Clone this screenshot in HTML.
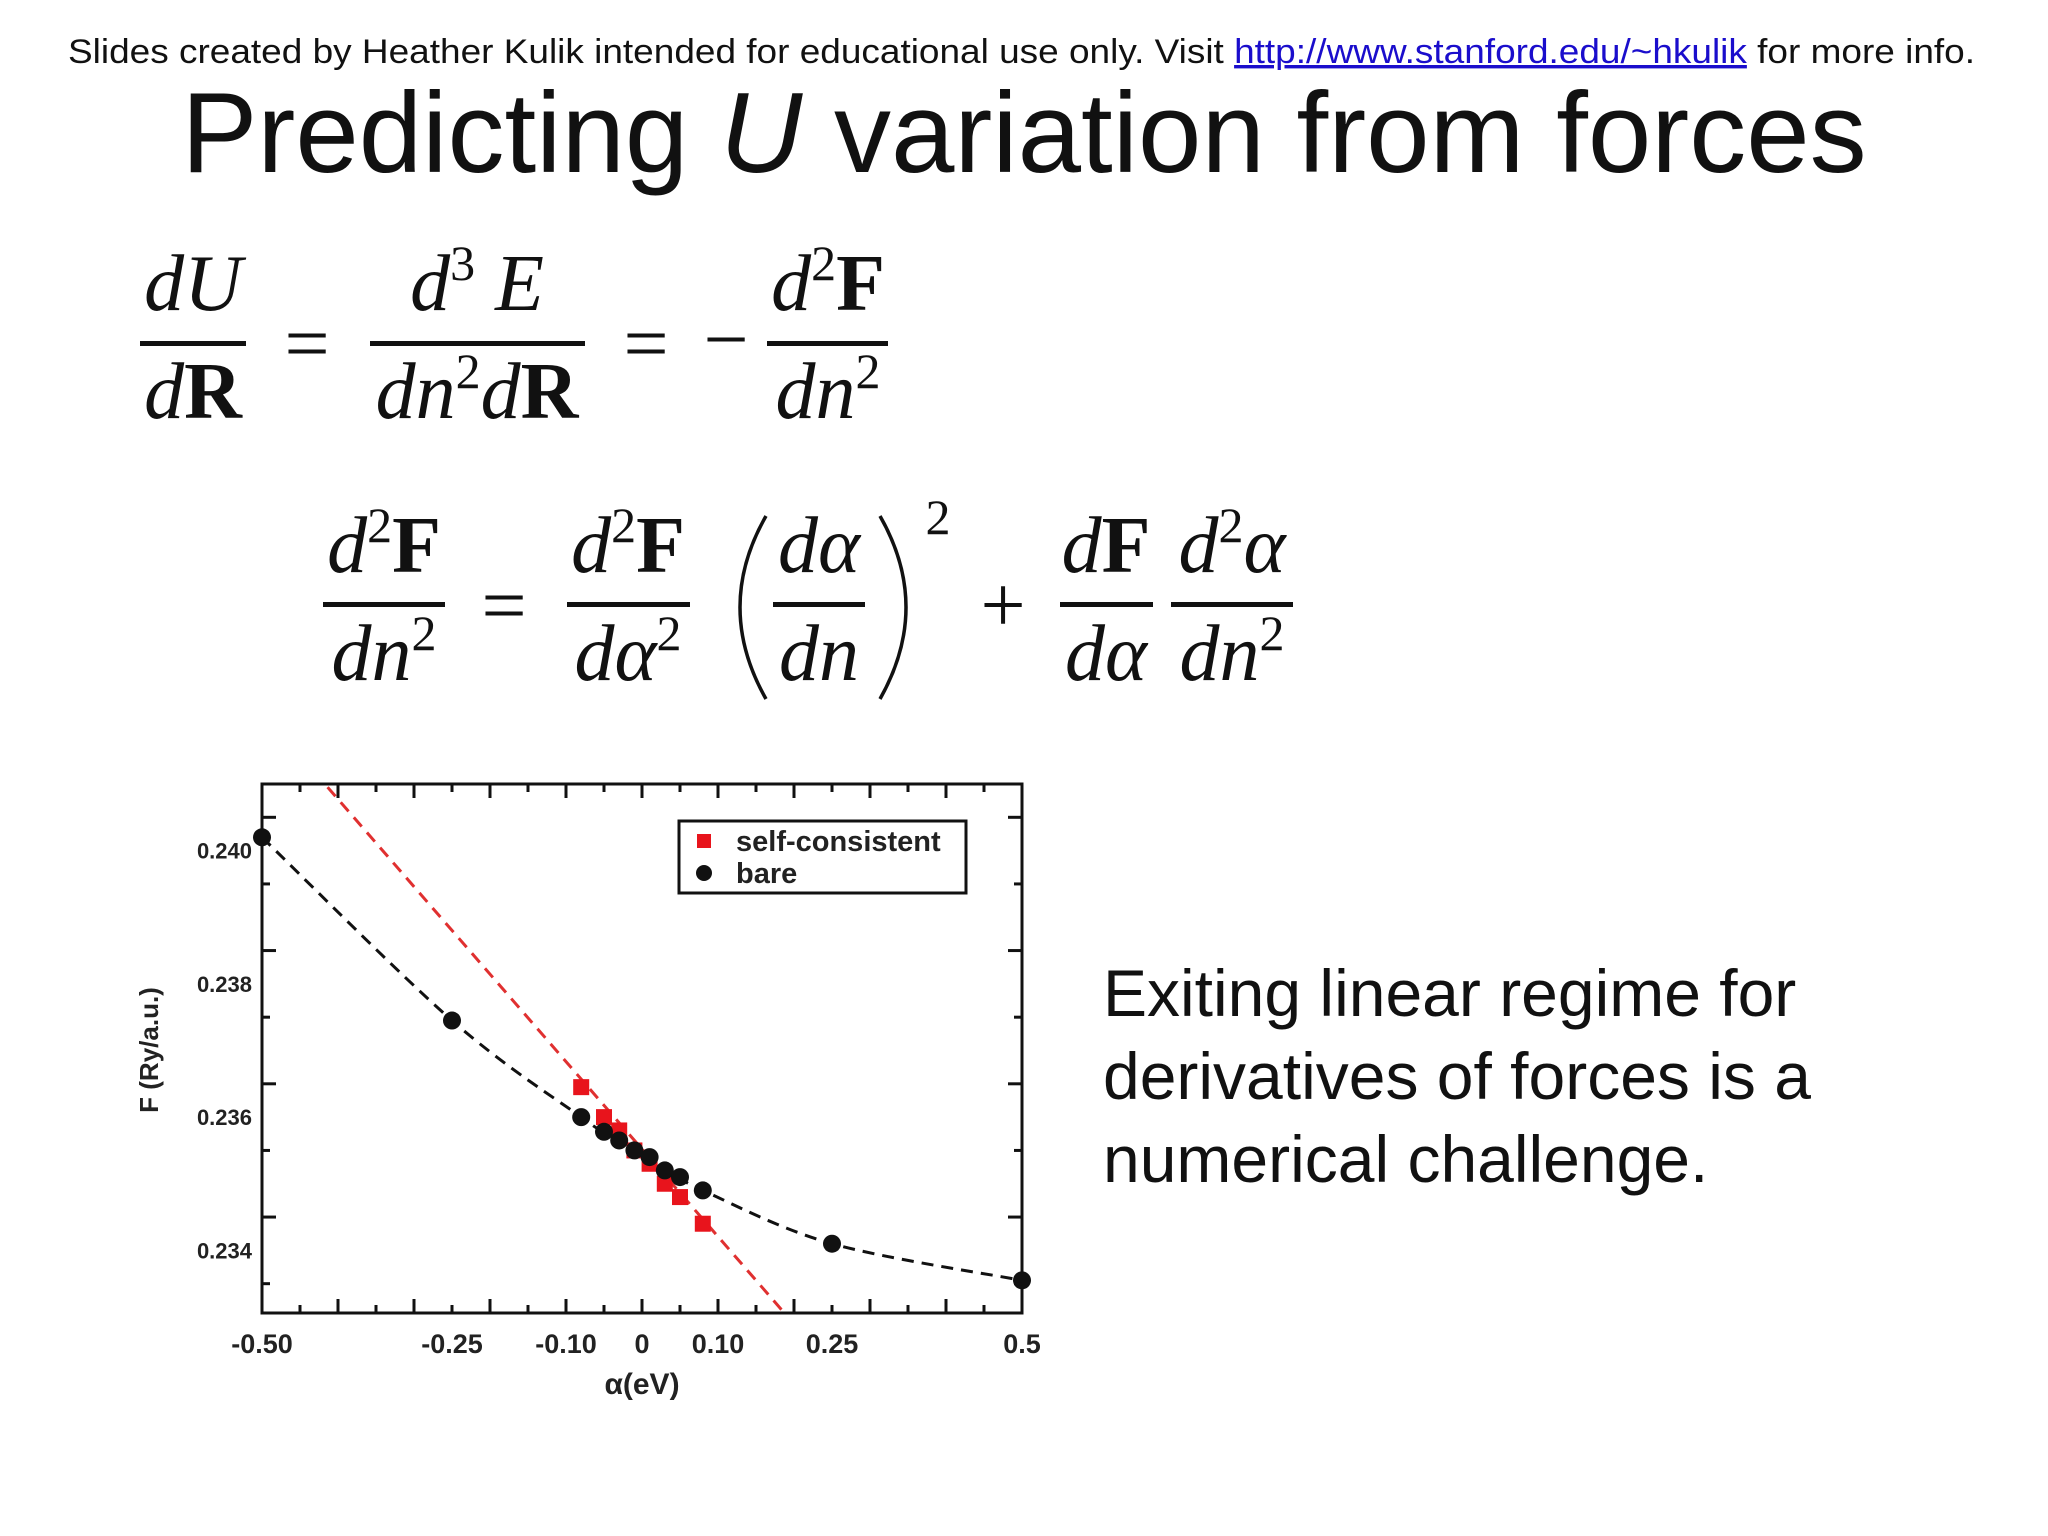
<!DOCTYPE html>
<html><head><meta charset="utf-8">
<style>
html,body{margin:0;padding:0;background:#fff;}
svg{display:block;}
.eq{font-family:"Liberation Serif",serif;font-style:italic;font-size:80px;fill:#111;}
.b{font-weight:bold;font-style:normal;}
.sup{font-size:50px;font-style:normal;}
.tk{font-family:"Liberation Sans",sans-serif;font-weight:bold;fill:#222;}
</style></head>
<body>
<svg id="page" width="2048" height="1536" viewBox="0 0 2048 1536" xmlns="http://www.w3.org/2000/svg">
<text x="68" y="63" textLength="1907" lengthAdjust="spacingAndGlyphs" font-family="Liberation Sans, sans-serif" font-size="34" fill="#111">Slides created by Heather Kulik intended for educational use only. Visit <tspan fill="#1a0dcc" text-decoration="underline">http://www.stanford.edu/~hkulik</tspan> for more info.</text>
<text x="1024" y="172" text-anchor="middle" font-family="Liberation Sans, sans-serif" font-size="114" fill="#111">Predicting <tspan font-style="italic">U</tspan> variation from forces</text>

<g class="eq">
<text x="193" y="310" text-anchor="middle">dU</text><rect x="140" y="341" width="106" height="5" fill="#111"/><text x="193" y="418" text-anchor="middle">d<tspan class="b">R</tspan></text>
<text x="307" y="370" text-anchor="middle" font-style="normal">=</text>
<text x="477" y="310" text-anchor="middle">d<tspan class="sup" dy="-30">3</tspan><tspan dy="30"> E</tspan></text><rect x="370" y="341" width="215" height="5" fill="#111"/><text x="477" y="418" text-anchor="middle">dn<tspan class="sup" dy="-30">2</tspan><tspan dy="30">d</tspan><tspan class="b">R</tspan></text>
<text x="646" y="370" text-anchor="middle" font-style="normal">=</text>
<text x="726" y="366" text-anchor="middle" font-style="normal">−</text>
<text x="828" y="310" text-anchor="middle">d<tspan class="sup" dy="-30">2</tspan><tspan class="b" dy="30">F</tspan></text><rect x="767" y="341" width="121" height="5" fill="#111"/><text x="828" y="418" text-anchor="middle">dn<tspan class="sup" dy="-30">2</tspan></text>
</g>

<g class="eq">
<text x="384" y="572" text-anchor="middle">d<tspan class="sup" dy="-30">2</tspan><tspan class="b" dy="30">F</tspan></text><rect x="323" y="602" width="122" height="5" fill="#111"/><text x="384" y="680" text-anchor="middle">dn<tspan class="sup" dy="-30">2</tspan></text>
<text x="504" y="632" text-anchor="middle" font-style="normal">=</text>
<text x="628" y="572" text-anchor="middle">d<tspan class="sup" dy="-30">2</tspan><tspan class="b" dy="30">F</tspan></text><rect x="567" y="602" width="123" height="5" fill="#111"/><text x="628" y="680" text-anchor="middle">dα<tspan class="sup" dy="-30">2</tspan></text>
<path d="M766,516 Q714,607 766,699" fill="none" stroke="#111" stroke-width="3.5"/>
<text x="819" y="572" text-anchor="middle">dα</text><rect x="773" y="602" width="92" height="5" fill="#111"/><text x="819" y="680" text-anchor="middle">dn</text>
<path d="M880,516 Q932,607 880,699" fill="none" stroke="#111" stroke-width="3.5"/>
<text x="938" y="534" class="sup" text-anchor="middle">2</text>
<text x="1003" y="632" text-anchor="middle" font-style="normal">+</text>
<text x="1106" y="572" text-anchor="middle">d<tspan class="b">F</tspan></text><rect x="1060" y="602" width="93" height="5" fill="#111"/><text x="1106" y="680" text-anchor="middle">dα</text>
<text x="1232" y="572" text-anchor="middle">d<tspan class="sup" dy="-30">2</tspan><tspan dy="30">α</tspan></text><rect x="1171" y="602" width="122" height="5" fill="#111"/><text x="1232" y="680" text-anchor="middle">dn<tspan class="sup" dy="-30">2</tspan></text>
</g>

<g font-family="Liberation Sans, sans-serif" font-size="66" fill="#111">
<text x="1103" y="1016">Exiting linear regime for</text>
<text x="1103" y="1099">derivatives of forces is a</text>
<text x="1103" y="1182">numerical challenge.</text>
</g>

<g id="chart"></g>
</svg>
<script>
const xTickVals = [-0.5, -0.25, -0.1, 0, 0.1, 0.25, 0.5];
const xTickLabels = ["-0.50", "-0.25", "-0.10", "0", "0.10", "0.25", "0.5"];
const yTickVals = [0.234, 0.236, 0.238, 0.240];
const yTickLabels = ["0.234", "0.236", "0.238", "0.240"];
const bareX = [-0.5, -0.25, -0.08, -0.05, -0.03, -0.01, 0.01, 0.03, 0.05, 0.08, 0.25, 0.5];
const bareY = [0.2402, 0.23745, 0.2360, 0.23578, 0.23565, 0.2355, 0.2354, 0.2352, 0.2351, 0.2349, 0.2341, 0.23355];
const scX = [-0.08, -0.05, -0.03, -0.01, 0.01, 0.03, 0.05, 0.08];
const scY = [0.23645, 0.2360, 0.2358, 0.2355, 0.2353, 0.2350, 0.2348, 0.2344];
const scFitIntercept = [0.23552];
const scFitSlope = [-0.01313];

const NS = "http://www.w3.org/2000/svg";
const L = 262, R = 1022, T = 784, B = 1313;
const xMin = -0.5, xMax = 0.5, yMin = 0.23306, yMax = 0.241;
const sx = v => L + (v - xMin) / (xMax - xMin) * (R - L);
const sy = v => B - (v - yMin) / (yMax - yMin) * (B - T);
const g = document.getElementById('chart');
function mk(tag, attrs, parent) {
  const e = document.createElementNS(NS, tag);
  for (const k in attrs) e.setAttribute(k, attrs[k]);
  (parent || g).appendChild(e);
  return e;
}
const clip = mk('clipPath', {id: 'pc'});
mk('rect', {x: L, y: T, width: R - L, height: B - T}, clip);

const fx1 = xMin, fx2 = xMax;
const redLine = mk('line', {x1: sx(fx1), y1: sy(scFitIntercept[0] + scFitSlope[0] * fx1), x2: sx(fx2), y2: sy(scFitIntercept[0] + scFitSlope[0] * fx2), stroke: '#e03030', 'stroke-width': 3, 'stroke-dasharray': '12 8', 'clip-path': 'url(#pc)'});



let pts = bareX.map((x, i) => [sx(x), sy(bareY[i])]);
let d = 'M' + pts[0][0] + ',' + pts[0][1];
for (let i = 0; i < pts.length - 1; i++) {
  const p0 = pts[Math.max(i - 1, 0)], p1 = pts[i], p2 = pts[i + 1], p3 = pts[Math.min(i + 2, pts.length - 1)];
  const c1 = [p1[0] + (p2[0] - p0[0]) / 6, p1[1] + (p2[1] - p0[1]) / 6];
  const c2 = [p2[0] - (p3[0] - p1[0]) / 6, p2[1] - (p3[1] - p1[1]) / 6];
  d += ' C' + c1 + ' ' + c2 + ' ' + p2;
}
const curve = mk('path', {d: d, fill: 'none', stroke: '#111', 'stroke-width': 3, 'stroke-dasharray': '12 8'});



scX.forEach((x, i) => {
  const r = mk('rect', {x: sx(x) - 8, y: sy(scY[i]) - 8, width: 16, height: 16, fill: '#e8141c'});
  
  
});
bareX.forEach((x, i) => {
  const c = mk('circle', {cx: sx(x), cy: sy(bareY[i]), r: 9, fill: '#111'});
  
  
});

const frame = mk('rect', {x: L, y: T, width: R - L, height: B - T, fill: 'none', stroke: '#111', 'stroke-width': 3});



for (let k = -10; k <= 10; k++) {
  const v = k * 0.05, X = sx(v);
  const major = Math.abs(k % 2) === 0;
  const len = major ? 14 : 8;
  mk('line', {x1: X, y1: B, x2: X, y2: B - len, stroke: '#111', 'stroke-width': 3});
  mk('line', {x1: X, y1: T, x2: X, y2: T + len, stroke: '#111', 'stroke-width': 3});
}
for (let k = 0; k <= 7; k++) {
  const v = 0.2335 + k * 0.001; const Y = sy(v);
  const len = (k % 2 === 1) ? 14 : 8;
  mk('line', {x1: L, y1: Y, x2: L + len, y2: Y, stroke: '#111', 'stroke-width': 3});
  mk('line', {x1: R, y1: Y, x2: R - len, y2: Y, stroke: '#111', 'stroke-width': 3});
}
xTickVals.forEach((v, i) => {
  const t = mk('text', {x: sx(v), y: B + 40, 'text-anchor': 'middle', 'font-size': 27, class: 'tk'});
  t.textContent = xTickLabels[i];
  
  
});
yTickVals.forEach((v, i) => {
  const t = mk('text', {x: L - 10, y: sy(v) + 8, 'text-anchor': 'end', 'font-size': 22, class: 'tk'});
  t.textContent = yTickLabels[i];
  
  
});
const xt = mk('text', {x: 642, y: 1394, 'text-anchor': 'middle', 'font-size': 30, class: 'tk', 'font-weight': 'normal'});
xt.textContent = 'α(eV)';


const yt = mk('text', {x: 0, y: 0, 'text-anchor': 'middle', 'font-size': 26, class: 'tk', transform: 'translate(158,1050) rotate(-90)'});
yt.textContent = 'F (Ry/a.u.)';



const lg = mk('g', {});


mk('rect', {x: 679, y: 821, width: 287, height: 72, fill: '#fff', stroke: '#111', 'stroke-width': 3}, lg);
mk('rect', {x: 697, y: 834, width: 14, height: 14, fill: '#e8141c'}, lg);
mk('circle', {cx: 704, cy: 873, r: 8, fill: '#111'}, lg);
const l1 = mk('text', {x: 736, y: 851, 'font-size': 29, class: 'tk'}, lg); l1.textContent = 'self-consistent';


const l2 = mk('text', {x: 736, y: 883, 'font-size': 29, class: 'tk'}, lg); l2.textContent = 'bare';


</script>
</body></html>
